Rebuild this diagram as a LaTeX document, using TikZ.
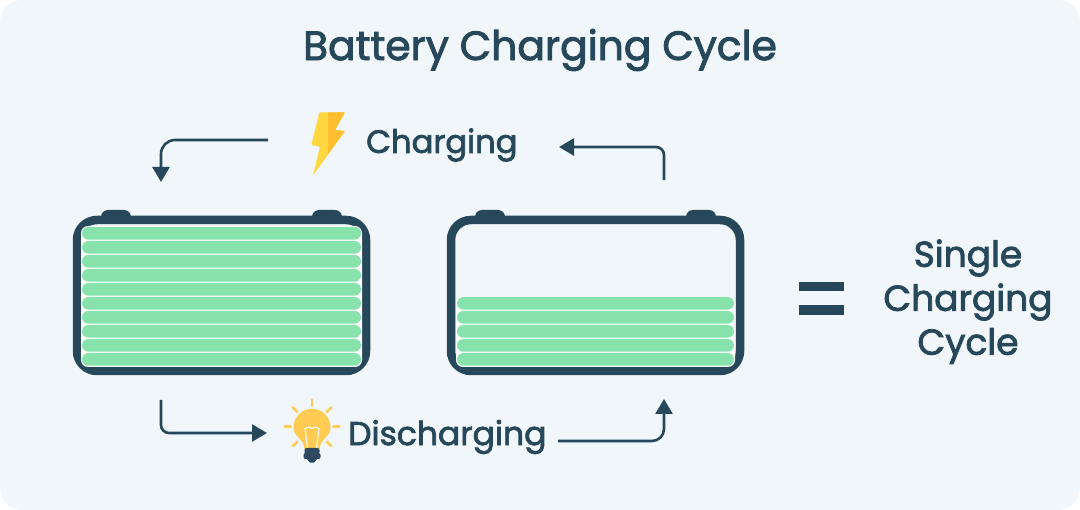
\documentclass[tikz,border=0pt]{standalone}
\usepackage{fontspec}
\setmainfont{Poppins}[RawFeature={embolden=2.2}]
\usetikzlibrary{%
arrows.meta
}
\definecolor{panelbg}{HTML}{F0F6F9}
\definecolor{darkslate}{HTML}{26485A}
\definecolor{cellgreen}{HTML}{88E2AB}
\definecolor{boltlight}{HTML}{FFD740}
\definecolor{boltdark}{HTML}{FFBE2E}
\definecolor{bulbyellow}{HTML}{FFCB52}
\definecolor{bulbbase}{HTML}{2F4A60}
\tikzset{
x=1pt,y=-1pt,
battery/.style={draw=darkslate,line width=8.5pt,rounded corners=20pt,fill=panelbg,minimum width=289pt,minimum height=151pt,inner sep=0pt,outer sep=0pt},
terminal/.style={fill=darkslate,rounded corners=7pt},
cell/.style={fill=cellgreen,rounded corners=6.3pt},
flowarrow/.style={draw=darkslate,line width=2.6pt,-{Triangle[length=15pt,width=17pt]}},
ray/.style={draw=bulbyellow,line width=2.6pt,line cap=round},
caption/.style={text=darkslate,inner sep=0pt,font=\fontsize{32.2}{32}\selectfont},
sidelabel/.style={text=darkslate,inner sep=0pt,font=\fontsize{36}{36}\selectfont},
title/.style={text=darkslate,inner sep=0pt,font=\fontsize{40.8}{41}\selectfont}
}
\begin{document}
\begin{tikzpicture}
\newcommand{\Pitch}{14}
\useasboundingbox (0,0) rectangle (1080,510);
        \fill[panelbg,rounded corners=22pt] (0,0) rectangle (1080,510);
        \node[title] (heading) at (540,50) {Battery Charging Cycle};

        \foreach \x in {101,312,475,686} {
                \path[terminal] (\x,210) -- (\x+30,210) -- (\x+30,230) -- (\x,230) -- cycle;
		}
        \node[battery] (fullbat) at (221.5,295.5) {};
        \node[battery] (lowbat) at (595.5,295.5) {};
        \fill[white,rounded corners=7pt] (81,226) rectangle (362,367);
        \fill[white,rounded corners=7pt] (456,296) rectangle (735,367);
        \foreach \x in {0,...,9} {
                \path[cell] (82,{227+\Pitch*\x}) rectangle (361,{239.7+\Pitch*\x});
		}
        \foreach \x in {5,...,9} {
                \path[cell] (457,{227+\Pitch*\x}) rectangle (734,{239.7+\Pitch*\x});
		}

        \fill[boltlight,rounded corners=1pt] (319.3,112.3) -- (345,112.3) -- (335,130) -- (345,131) -- (313,175.5) -- (320,146.7) -- (311.3,145) -- cycle;
        \fill[boltdark,rounded corners=1pt] (328,112.3) -- (345,112.3) -- (335,130) -- (345,131) -- (328,154) -- cycle;
        \node[caption,anchor=west] (charging) at (366,145) {Charging};

        \foreach \a/\b/\c/\d in {312/400/312/405.7,333.3/426.7/339.3/426.7,284.7/426.7/290.7/426.7,292.7/407.3/297.3/412,331.3/407.3/326.7/412,292.7/446/297.3/441.7,331.3/446/326.7/441.7} {
                \draw[ray] (\a,\b) -- (\c,\d);
		}
        \fill[bulbyellow] (304.5,449) .. controls (304,438) and (293.5,438) .. (293.5,427.3) arc[start angle=180,end angle=360,radius=18.5] .. controls (330.5,438) and (320,438) .. (319.5,449) -- cycle;
        \draw[white,line width=1pt] (307.5,448) -- (305,428.5) -- (309,427) -- (312,428.5) -- (315,427) -- (319,428.5) -- (316.5,448);
        \fill[bulbbase,rounded corners=2pt] (304.5,448) rectangle (319.5,454);
        \fill[bulbbase,rounded corners=2pt] (303.5,453) rectangle (320.5,459);
        \fill[bulbbase] (306,458) -- (318,458) -- (314,462.7) -- (310,462.7) -- cycle;
        \node[caption,anchor=west,font=\fontsize{33}{33}\selectfont] (discharging) at (348,437) {Discharging};

        \coordinate (chargestart) at (268,140);
        \coordinate (chargeend) at (161,182);
        \coordinate (refillstart) at (664,180);
        \coordinate (refillend) at (559,147);
        \coordinate (drainstart) at (161,400);
        \coordinate (drainend) at (267,433);
        \coordinate (backstart) at (558,441);
        \coordinate (backend) at (664,399);
        \draw[flowarrow,rounded corners=14pt] (chargestart) -| (chargeend);
        \draw[flowarrow,rounded corners=8pt] (refillstart) |- (refillend);
        \draw[flowarrow,rounded corners=8pt] (drainstart) |- (drainend);
        \draw[flowarrow,rounded corners=12pt] (backstart) -| (backend);

        \fill[darkslate] (799,282) rectangle (844,291);
        \fill[darkslate] (799,305) rectangle (844,315);
        \node[sidelabel] (single) at (968,258) {Single};
        \node[sidelabel] (chargingtwo) at (968,302) {Charging};
        \node[sidelabel] (cycle) at (968,346) {Cycle};
\end{tikzpicture}
\end{document}
